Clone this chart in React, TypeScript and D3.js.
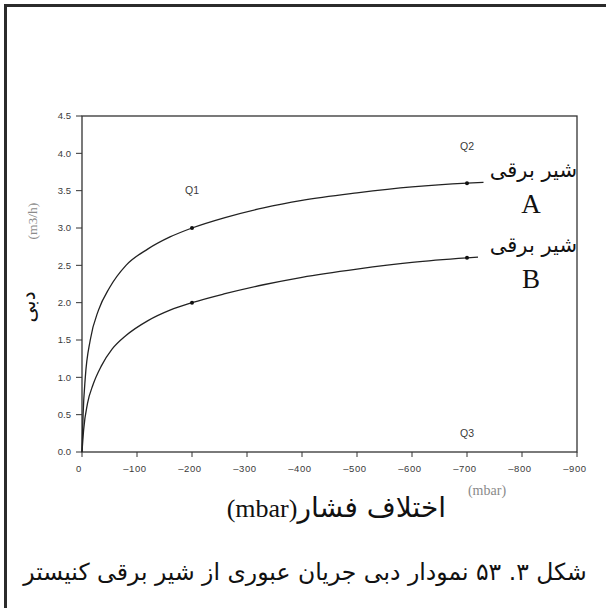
import React from "react";
import * as d3 from "d3";

const xTicks = [0, 100, 200, 300, 400, 500, 600, 700, 800, 900];
const yTicks = [0, 0.5, 1, 1.5, 2, 2.5, 3, 3.5, 4, 4.5];

// valve A (upper curve): [pressure difference magnitude mbar, flow m3/h]
const curveA: [number, number][] = [
  [0, 0], [2, 0.5], [6, 1.0], [15, 1.5], [30, 1.9], [50, 2.2], [80, 2.5],
  [120, 2.72], [160, 2.88], [200, 3.0], [260, 3.14], [330, 3.27], [400, 3.37],
  [500, 3.47], [600, 3.55], [700, 3.6], [730, 3.61],
];
// valve B (lower curve)
const curveB: [number, number][] = [
  [0, 0], [3, 0.3], [10, 0.65], [20, 0.9], [35, 1.15], [55, 1.38], [80, 1.56],
  [120, 1.76], [160, 1.9], [200, 2.0], [260, 2.12], [330, 2.24], [400, 2.34],
  [500, 2.45], [600, 2.54], [700, 2.6], [720, 2.61],
];
const markersA: [number, number][] = [[200, 3.0], [700, 3.6]];
const markersB: [number, number][] = [[200, 2.0], [700, 2.6]];

const qLabels = [
  { t: "Q1", x: 200, y: 3.5 },
  { t: "Q2", x: 700, y: 4.1 },
  { t: "Q3", x: 700, y: 0.25 },
];

const valveName = "شیر برقی";
const valveLetters = ["A", "B"];
const yTitle = "دبی";
const yUnit = "(m3/h)";
const xTitleFa = "اختلاف فشار";
const xTitleUnit = "(mbar)";
const xUnit = "(mbar)";
const caption = "شکل ۳. ۵۳ نمودار دبی جریان عبوری از شیر برقی کنیستر";

export default function App() {
  const W = 606, H = 608;
  const x0 = 82, x1 = 577, yTop = 116, yBot = 452;
  const x = d3.scaleLinear().domain([0, 900]).range([x0, x1]);
  const y = d3.scaleLinear().domain([0, 4.5]).range([yBot, yTop]);
  const line = d3.line<[number, number]>().x(d => x(d[0])).y(d => y(d[1])).curve(d3.curveMonotoneX);
  const tickFont = "'Liberation Sans', Arial, sans-serif";
  const faFont = "'DejaVu Sans', sans-serif";
  const serif = "'Liberation Serif', serif";
  const tc = "#3a3a3a";

  return (
    <svg width={W} height={H} style={{ position: "absolute", left: 0, top: 0, background: "#fff" }}>
      <rect x={0} y={0} width={W} height={H} fill="#fff" />
      <rect x={5.5} y={5.5} width={640} height={640} fill="none" stroke="#2b2b2b" strokeWidth={3} />
      {/* plot box */}
      <rect x={x0} y={yTop} width={x1 - x0} height={yBot - yTop} fill="none" stroke="#333" strokeWidth={1.3} />
      {/* y ticks */}
      {yTicks.map(v => (
        <g key={"y" + v}>
          <line x1={x0 - 6} x2={x0} y1={y(v)} y2={y(v)} stroke="#333" strokeWidth={1} />
          <text x={x0 - 11} y={y(v)} dy="0.35em" textAnchor="end" fontSize={9.5} fontFamily={tickFont} fill={tc}>
            {d3.format(".1f")(v)}
          </text>
        </g>
      ))}
      {/* x ticks */}
      {xTicks.map(v => (
        <g key={"x" + v}>
          <line x1={x(v)} x2={x(v)} y1={yBot} y2={yBot + 5} stroke="#333" strokeWidth={1} />
          <text x={x(v) - (v === 0 ? 3 : 2)} y={yBot + 20} textAnchor="middle" fontSize={9.5} letterSpacing={0.6} fontFamily={tickFont} fill={tc}>
            {v === 0 ? "0" : "\u2013" + v}
          </text>
        </g>
      ))}
      {/* curves */}
      <path d={line(curveA) || ""} fill="none" stroke="#222" strokeWidth={1.3} />
      <path d={line(curveB) || ""} fill="none" stroke="#222" strokeWidth={1.3} />
      {[...markersA, ...markersB].map((p, i) => (
        <circle key={"m" + i} cx={x(p[0])} cy={y(p[1])} r={2} fill="#111" />
      ))}
      {qLabels.map(q => (
        <text key={q.t} x={x(q.x)} y={y(q.y)} dy="0.35em" textAnchor="middle" fontSize={10.5} fontFamily={tickFont} fill={tc}>
          {q.t}
        </text>
      ))}
      {/* valve labels */}
      {[markersA[1][1], markersB[1][1]].map((v, i) => (
        <g key={"v" + i}>
          <text x={577} y={y(v) - 6} direction="rtl" textAnchor="start" fontSize={21} fontFamily={faFont} fill="#111">
            {valveName}
          </text>
          <text x={531} y={y(v) + 30} textAnchor="middle" fontSize={27} fontFamily={serif} fill="#111">
            {valveLetters[i]}
          </text>
        </g>
      ))}
      {/* y axis titles */}
      <text transform="translate(37,221) rotate(-90)" textAnchor="middle" fontSize={13.5} fontFamily={serif} fill="#8a8a8a">
        {yUnit}
      </text>
      <text transform="translate(35,307) rotate(-90)" textAnchor="middle" fontSize={20} fontFamily={faFont} fill="#111">
        {yTitle}
      </text>
      {/* x axis titles */}
      <text x={487} y={495} textAnchor="middle" fontSize={14} fontFamily={serif} fill="#8a8a8a">
        {xUnit}
      </text>
      <text x={446} y={517} direction="rtl" textAnchor="start" fill="#111">
        <tspan fontSize={28} fontFamily={faFont}>{xTitleFa}</tspan>
        <tspan fontSize={26} fontFamily={serif}>{xTitleUnit}</tspan>
      </text>
      {/* caption */}
      <text x={305} y={580} textAnchor="middle" fontSize={23.5} fontFamily={faFont} fill="#111" direction="rtl">
        {caption}
      </text>
    </svg>
  );
}
